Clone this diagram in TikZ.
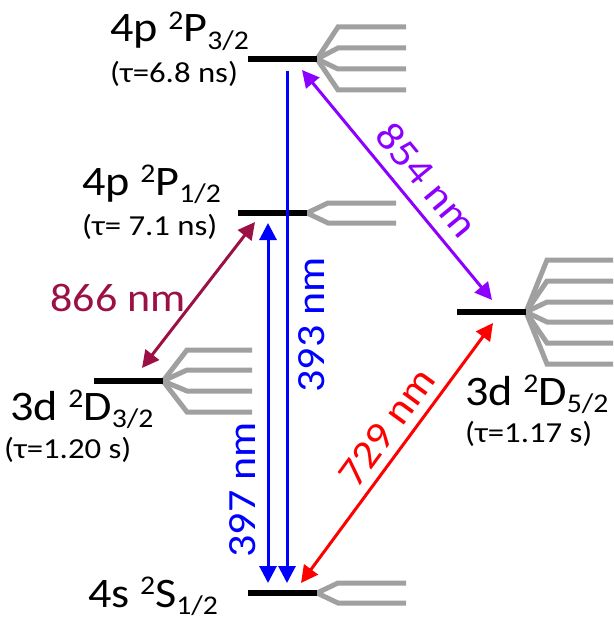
\documentclass[tikz,border=0pt]{standalone}
\usepackage{fontspec}
\setmainfont{Carlito}
\newfontfamily\bigf[FakeStretch=1.1]{Carlito}
\newfontfamily\smallf[FakeStretch=1.13]{Carlito}
\usetikzlibrary{arrows.meta}
\definecolor{fangray}{RGB}{160,160,160}
\definecolor{maroonc}{RGB}{155,17,70}
\definecolor{purplec}{RGB}{140,0,255}
\newcommand\trm[4]{#1 \raisebox{0.29em}{\fontsize{27}{27}\selectfont #2}#3\raisebox{-0.19em}{\fontsize{27}{27}\selectfont #4}}
\begin{document}
\begin{tikzpicture}[x=1pt,y=-1pt,
  level/.style={line width=6pt,black},
  fan/.style={line width=5pt,fangray,line join=miter},
  tr/.style={line width=3pt,-{Triangle[length=17pt,width=17pt]}},
  trr/.style={line width=3pt,{Triangle[length=17pt,width=17pt]}-{Triangle[length=17pt,width=17pt]}},
  termlab/.style={inner sep=0pt,anchor=base west,font=\bigf\fontsize{42}{42}\selectfont},
  lifelab/.style={inner sep=0pt,anchor=base west,font=\smallf\fontsize{29}{29}\selectfont},
  wlab/.style={inner sep=0pt,font=\bigf\fontsize{40}{40}\selectfont}]
\useasboundingbox (0,0) rectangle (613,623);
% level end points
\coordinate (P3a) at (248,59); \coordinate (P3b) at (317,59);
\coordinate (P1a) at (238,213); \coordinate (P1b) at (307,213);
\coordinate (D5a) at (457,312); \coordinate (D5b) at (526,312);
\coordinate (D3a) at (94,381); \coordinate (D3b) at (163,381);
\coordinate (S1a) at (248,593); \coordinate (S1b) at (317,593);
% Zeeman fans
\begin{scope}
\clip (0,0) rectangle (613,623);
\foreach \y in {27,48,69,90} \draw[fan] (P3b) -- (338,\y) -- (406,\y);
\foreach \y in {203,223} \draw[fan] (P1b) -- (328,\y) -- (396,\y);
\foreach \y in {260,281,302,322,343,364} \draw[fan] (D5b) -- (547,\y) -- (620,\y);
\foreach \y in {350,370,391,412} \draw[fan] (D3b) -- (187,\y) -- (252,\y);
\foreach \y in {583,603} \draw[fan] (S1b) -- (338,\y) -- (406,\y);
\end{scope}
% levels
\draw[level] (P3a) -- (P3b);
\draw[level] (P1a) -- (P1b);
\draw[level] (D5a) -- (D5b);
\draw[level] (D3a) -- (D3b);
\draw[level] (S1a) -- (S1b);
% transition end points
\coordinate (t393a) at (287,71); \coordinate (t393b) at (287,583);
\coordinate (t397a) at (268,223); \coordinate (t397b) at (268,583);
\coordinate (t866a) at (255,222); \coordinate (t866b) at (142,368);
\coordinate (t854a) at (302,70); \coordinate (t854b) at (492,300);
\coordinate (t729a) at (493,323); \coordinate (t729b) at (301,583);
\draw[tr,blue] (t393a) -- (t393b);
\draw[trr,blue] (t397a) -- (t397b);
\draw[trr,maroonc] (t866a) -- (t866b);
\draw[trr,purplec] (t854a) -- (t854b);
\draw[trr,red] (t729a) -- (t729b);
% wavelength labels
\node[wlab,blue,rotate=90] (l393) at (312,325) {393 nm};
\node[wlab,blue,rotate=90] (l397) at (243,490) {397 nm};
\node[wlab,maroonc] (l866) at (118,298) {866 nm};
\node[wlab,purplec,rotate=-50.6] (l854) at (427,180) {854 nm};
\node[wlab,red,rotate=53.8] (l729) at (387,427) {729 nm};
% term labels
\node[termlab] (nP3) at (110,42) {\trm{4p}{2}{P}{3/2}};
\node[lifelab] (tP3) at (110,83) {(τ=6.8 ns)};
\node[termlab] (nP1) at (82,195) {\trm{4p}{2}{P}{1/2}};
\node[lifelab] (tP1) at (82,235) {(τ= 7.1 ns)};
\node[termlab] (nD3) at (10,420) {\trm{3d}{2}{D}{3/2}};
\node[lifelab] (tD3) at (4,458) {(τ=1.20 s)};
\node[termlab] (nD5) at (465,405) {\trm{3d}{2}{D}{5/2}};
\node[lifelab] (tD5) at (465,442) {(τ=1.17 s)};
\node[termlab] (nS1) at (88,607) {\trm{4s}{2}{S}{1/2}};
\end{tikzpicture}
\end{document}
